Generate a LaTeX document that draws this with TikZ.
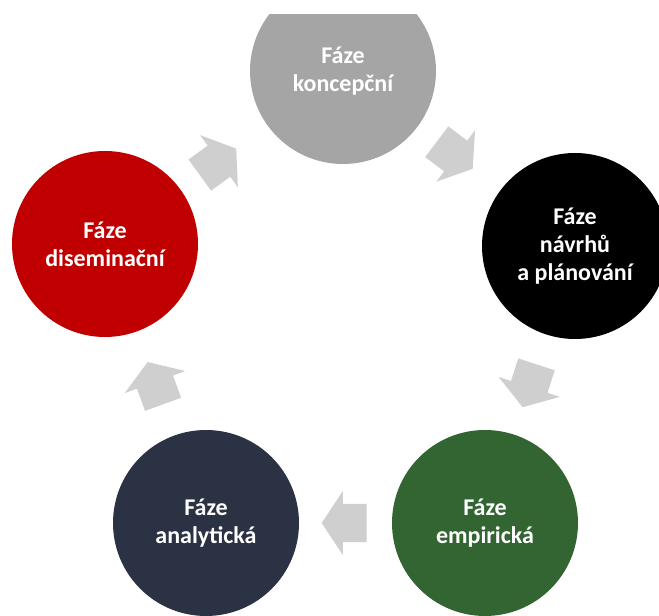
\documentclass[tikz,border=0pt]{standalone}
\usepackage{fontspec}
\setmainfont{Carlito}
\usetikzlibrary{calc,shapes.arrows}
\definecolor{phasegray}{HTML}{A5A5A5}
\definecolor{phaseblack}{HTML}{000000}
\definecolor{phasegreen}{RGB}{51,101,51}
\definecolor{phasenavy}{RGB}{42,50,67}
\definecolor{phasered}{HTML}{C00000}
\definecolor{arrowgray}{RGB}{207,207,207}

\begin{document}
\begin{tikzpicture}[
    x=1pt, y=1pt,
    phase/.style={circle, minimum size=186pt, inner sep=0pt, align=center, text=white, font=\fontsize{24}{28}\selectfont\bfseries},
    cyclearrow/.style={single arrow, fill=arrowgray, inner xsep=0pt, inner ysep=19pt, minimum height=45pt, single arrow head extend=13pt, single arrow tip angle=113},
]
\useasboundingbox (0,0) rectangle (659,616);
\clip (0,0) rectangle (659,601);
% phases of the cycle
\node[phase, fill=phasegray] (koncept) at (343,545) {Fáze\\koncepční};
\node[phase, fill=phaseblack] (navrh) at (575,370) {Fáze\\návrhů\\a plánování};
\node[phase, fill=phasegreen] (empir) at (485,93) {Fáze\\empirická};
\node[phase, fill=phasenavy] (analyt) at (206,93) {Fáze\\analytická};
\node[phase, fill=phasered] (disem) at (105,372) {Fáze\\diseminační};
% block arrows between phases
\node[cyclearrow, rotate=-37, xshift=-3pt] (a1) at ($(koncept)!0.47!(navrh)$) {};
\node[cyclearrow, rotate=-108, xshift=-5pt] (a2) at ($(navrh)!0.5!(empir)$) {};
\node[cyclearrow, rotate=180, xshift=-5pt] (a3) at ($(empir)!0.5!(analyt)$) {};
\node[cyclearrow, rotate=110, xshift=-6pt] (a4) at ($(analyt)!0.5!(disem)$) {};
\node[cyclearrow, rotate=36, xshift=-2pt] (a5) at ($(disem)!0.46!(koncept)$) {};
\end{tikzpicture}
\end{document}
